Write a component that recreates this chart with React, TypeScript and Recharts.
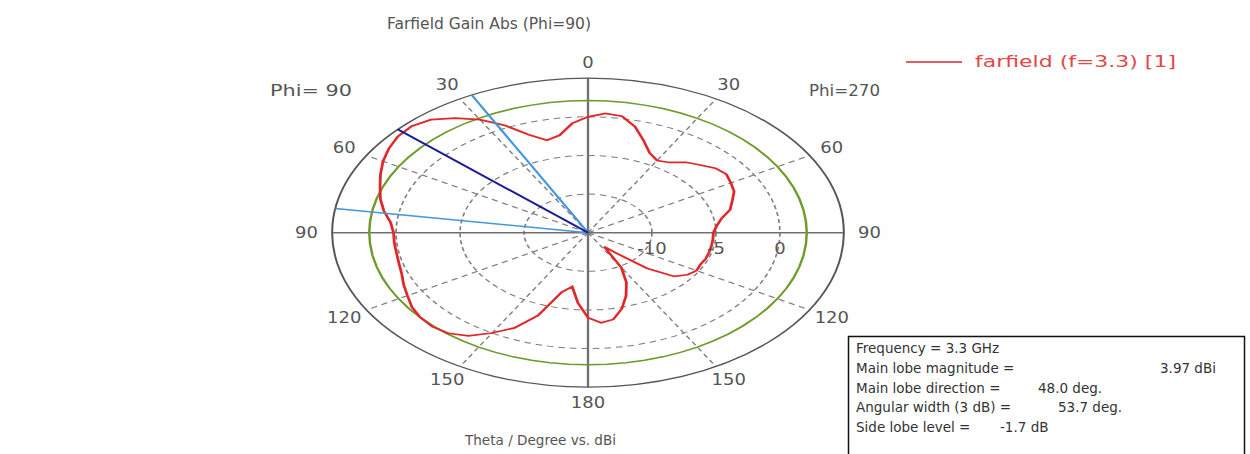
import React from "react";
import {
  RadarChart,
  Radar,
  PolarGrid,
  PolarAngleAxis,
  PolarRadiusAxis,
} from "recharts";

// angular position round the plot, degrees clockwise from the top:
// 0..180 is theta on the Phi=270 half, 180..360 is (360 - theta) on the Phi=90 half
const positions = [
  0, 5, 10, 15, 20, 25, 30, 35, 40, 45, 50, 55, 60, 65, 70, 75, 80, 85, 90, 95,
  100, 105, 110, 115, 120, 125, 130, 135, 140, 145, 150, 155, 160, 165, 170,
  175, 180, 185, 190, 195, 200, 205, 210, 215, 220, 225, 230, 235, 240, 245,
  250, 255, 260, 265, 270, 275, 280, 285, 290, 295, 300, 305, 310, 315, 320,
  325, 330, 335, 340, 345, 350, 355,
];

// farfield gain, dBi (f = 3.3 GHz)
const gainDbi = [
  0.0, 0.5, 0.3, -0.8, -2.3, -3.6, -4.2, -3.9, -3.1, -2.6,
  -2.0, -1.8, -2.1, -2.4, -3.0, -3.5, -4.4, -4.9, -5.2, -5.2,
  -5.2, -5.2, -5.2, -5.3, -5.2, -5.5, -6.2, -8.5, -11.5, -12.8,
  -9.8, -7.9, -6.3, -4.8, -3.6, -3.3, -4.0, -5.9, -7.9, -7.0,
  -3.6, -1.4, 0.0, 1.3, 2.0, 2.2, 2.1, 1.8, 1.3, 0.9,
  0.5, 0.3, 0.2, 0.2, 0.2, 0.5, 1.2, 1.8, 2.3, 2.9,
  3.5, 4.0, 4.4, 4.5, 4.1, 3.1, 1.9, 0.3, -1.5, -2.6,
  -2.2, -0.8,
];

const contourLevel = 2.1; // green reference circle
const beamTheta = [81, 48, 27]; // 3 dB edge, main lobe, 3 dB edge (Phi=90 half)
const beamKeys = ["edgeA", "main", "edgeB"];
const angleTicks = [0, 30, 60, 90, 120, 150, 180, 210, 240, 270, 300, 330];
const ringTicks = [-10, -5, 0];
const radialDomain: [number, number] = [-15, 5];

const infoLines = [
  { label: "Frequency = 3.3 GHz", value: "", vx: 0 },
  { label: "Main lobe magnitude =", value: "3.97 dBi", vx: 1160 },
  { label: "Main lobe direction =", value: "48.0 deg.", vx: 1038 },
  { label: "Angular width (3 dB) =", value: "53.7 deg.", vx: 1058 },
  { label: "Side lobe level =", value: "-1.7 dB", vx: 1000 },
];

// the plot is an ellipse: draw a circle and stretch it sideways
const STRETCH = 1.656;
const TEXT_WIDEN = 1.2;
const CX = 200;
const CY = 232.7;
const R = 154.5;
const TEXT = "#555";
const FONT = "'DejaVu Sans', Verdana, sans-serif";

const curveData = positions.map((pos, i) => ({
  pos,
  gain: gainDbi[i],
  level: contourLevel,
}));

const beamData = beamTheta.map((theta, i) => {
  const row: Record<string, number> = { pos: 360 - theta };
  beamKeys.forEach((k, j) => {
    row[k] = j === i ? radialDomain[1] : radialDomain[0];
  });
  return row;
});

function AngleTick(props: any) {
  const { x, y, payload } = props;
  const v = Number(payload.value) % 360;
  const label = v <= 180 ? v : 360 - v;
  return (
    <text
      transform={`translate(${x},${y}) scale(${TEXT_WIDEN / STRETCH},1)`}
      textAnchor="middle"
      dominantBaseline="central"
      fontSize={15}
      fontFamily={FONT}
      fill={TEXT}
    >
      {label}
    </text>
  );
}

function RingTick(props: any) {
  const { x, y, payload } = props;
  if (!ringTicks.includes(payload.value)) return null;
  return (
    <text
      transform={`translate(${x},${y + 16}) scale(${TEXT_WIDEN / STRETCH},1)`}
      textAnchor="middle"
      dominantBaseline="central"
      fontSize={15}
      fontFamily={FONT}
      fill={TEXT}
    >
      {payload.value}
    </text>
  );
}

const chartProps = {
  width: 400,
  height: 454,
  cx: CX,
  cy: CY,
  outerRadius: R,
  innerRadius: 0,
  startAngle: 90,
  endAngle: -270,
  margin: { top: 0, right: 0, bottom: 0, left: 0 },
};

export default function App() {
  return (
    <div
      style={{
        position: "absolute",
        left: 0,
        top: 0,
        width: 1250,
        height: 454,
        background: "#fff",
        overflow: "hidden",
      }}
    >
      <div
        style={{
          position: "absolute",
          left: 588 - CX,
          top: 0,
          width: 400,
          height: 454,
          transform: `scaleX(${STRETCH})`,
          transformOrigin: `${CX}px 0px`,
        }}
      >
        <div style={{ position: "absolute", left: 0, top: 0 }}>
          <RadarChart {...chartProps} data={curveData}>
            <PolarGrid
              gridType="circle"
              polarAngles={[30, 60, 120, 150, 210, 240, 300, 330]}
              stroke="#7d7d7d"
              strokeDasharray="4 3"
            />
            <PolarGrid
              gridType="circle"
              polarAngles={[0, 90, 180, 270]}
              polarRadius={[]}
              stroke="#707070"
              strokeWidth={1.4}
            />
            <PolarAngleAxis
              dataKey="pos"
              type="number"
              domain={[0, 360]}
              ticks={angleTicks}
              tickCount={13}
              axisLineType="circle"
              axisLine={{ stroke: "#555", strokeWidth: 1.2 }}
              tickLine={false}
              tickSize={15.5}
              tick={<AngleTick />}
            />
            <PolarRadiusAxis
              angle={0}
              type="number"
              domain={radialDomain}
              ticks={ringTicks}
              tickCount={5}
              axisLine={false}
              tickLine={false}
              tick={<RingTick />}
            />
            <Radar
              dataKey="level"
              stroke="#6f9a2c"
              strokeWidth={1.5}
              fill="none"
              isAnimationActive={false}
            />
            <Radar
              dataKey="gain"
              stroke="#e0282a"
              strokeWidth={1.7}
              fill="none"
              isAnimationActive={false}
            />
          </RadarChart>
        </div>
        <div style={{ position: "absolute", left: 0, top: 0 }}>
          <RadarChart {...chartProps} data={beamData}>
            <PolarAngleAxis
              dataKey="pos"
              type="number"
              domain={[0, 360]}
              tick={false}
              tickLine={false}
              axisLine={false}
            />
            <PolarRadiusAxis
              type="number"
              domain={radialDomain}
              tick={false}
              axisLine={false}
            />
            <Radar dataKey="edgeA" stroke="#4497dc" strokeWidth={1.5} fill="none" isAnimationActive={false} />
            <Radar dataKey="edgeB" stroke="#4497dc" strokeWidth={1.5} fill="none" isAnimationActive={false} />
            <Radar dataKey="main" stroke="#1b1b98" strokeWidth={1.7} fill="none" isAnimationActive={false} />
          </RadarChart>
        </div>
      </div>

      <svg
        width={1250}
        height={454}
        style={{ position: "absolute", left: 0, top: 0, pointerEvents: "none" }}
        fontFamily={FONT}
      >
        <text x={489} y={24} textAnchor="middle" dominantBaseline="central" fontSize={15.5} fill={TEXT}>
          Farfield Gain Abs (Phi=90)
        </text>
        <text
          x={270}
          y={91}
          dominantBaseline="central"
          fontSize={15}
          fill={TEXT}
          textLength={82}
          lengthAdjust="spacingAndGlyphs"
        >
          Phi= 90
        </text>
        <text
          x={809}
          y={91}
          dominantBaseline="central"
          fontSize={15}
          fill={TEXT}
          textLength={71}
          lengthAdjust="spacingAndGlyphs"
        >
          Phi=270
        </text>
        <line x1={906} y1={62} x2={962} y2={62} stroke="#e0282a" strokeWidth={1.6} />
        <text
          x={975}
          y={62}
          dominantBaseline="central"
          fontSize={15}
          fill="#e2484a"
          textLength={201}
          lengthAdjust="spacingAndGlyphs"
        >
          farfield (f=3.3) [1]
        </text>
        <text
          x={465}
          y={440}
          dominantBaseline="central"
          fontSize={14.5}
          fill={TEXT}
          textLength={151}
          lengthAdjust="spacingAndGlyphs"
        >
          Theta / Degree vs. dBi
        </text>

        <rect x={848.5} y={336.5} width={396} height={130} fill="#fff" stroke="#111" strokeWidth={1.5} />
        {infoLines.map((line, i) => (
          <g key={line.label} fontSize={13.5} fill="#333">
            <text x={856} y={348 + i * 19.8} dominantBaseline="central">
              {line.label}
            </text>
            {line.value && (
              <text x={line.vx} y={348 + i * 19.8} dominantBaseline="central">
                {line.value}
              </text>
            )}
          </g>
        ))}
      </svg>
    </div>
  );
}
